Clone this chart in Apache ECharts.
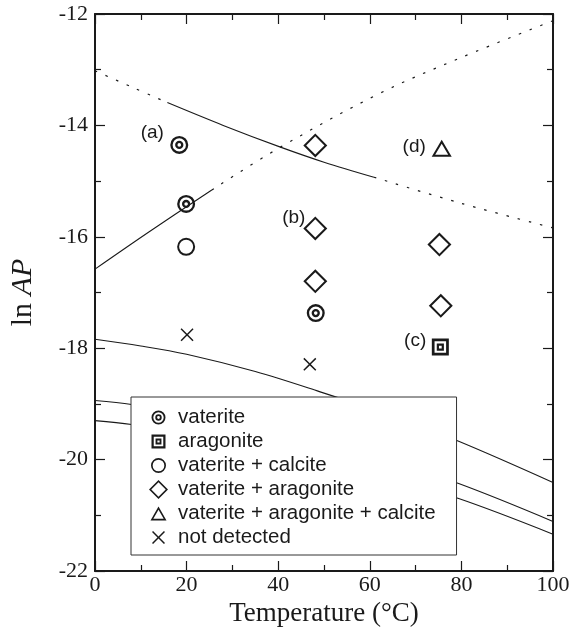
<!DOCTYPE html>
<html>
<head>
<meta charset="utf-8">
<script src="https://cdn.jsdelivr.net/npm/echarts@6/dist/echarts.min.js"></script>
<style>
  html, body { margin: 0; padding: 0; background: #fff; }
  #chart { width: 573px; height: 639px; }
</style>
</head>
<body>
<div id="chart"></div>
<script>
// measured points, [temperature °C, ln AP]
const vaterite = [[18.4, -14.35], [19.9, -15.41], [48.2, -17.37]];
const aragonite = [[75.4, -17.98]];
const vateriteCalcite = [[19.9, -16.18]];
const vateriteAragonite = [[48.1, -14.36], [48.1, -15.85], [48.1, -16.8], [75.2, -16.14], [75.5, -17.24]];
const vateriteAragoniteCalcite = [[75.7, -14.41]];
const notDetected = [[20.1, -17.76], [46.9, -18.29]];

// curves
const upperDotL = [[0, -13.02], [8, -13.31], [15.8, -13.59]];
const upperSolid = [[15.8, -13.59], [28, -14.0], [40.5, -14.39], [50, -14.66], [60.9, -14.93]];
const upperDotR = [[60.9, -14.93], [80, -15.4], [100, -15.84]];
const risingSolid = [[0, -16.58], [12, -15.9], [25.5, -15.16]];
const risingDot = [[25.5, -15.16], [40.5, -14.39], [62.3, -13.42], [80, -12.78], [100, -12.12]];
const lowerA = [[0, -17.84], [10, -17.96], [20, -18.11], [35, -18.42], [49, -18.78], [65, -19.22], [79.4, -19.67], [100, -20.41]];
const lowerB = [[0, -18.94], [8, -19.01], [20, -19.15], [40, -19.47], [60, -19.9], [79.4, -20.43], [100, -21.11]];
const lowerC = [[0, -19.3], [8, -19.37], [20, -19.51], [40, -19.81], [60, -20.22], [79.4, -20.7], [100, -21.34]];

const annotations = [[12.5, -14.13, '(a)'], [43.4, -15.65, '(b)'], [69.9, -17.87, '(c)'], [69.7, -14.39, '(d)']];

const ink = '#1a1a1a';

// outline marker shapes as filled rings (outer cw, inner ccw)
function ring(cx, cy, ro, ri) {
  return 'M' + (cx - ro) + ',' + cy + ' A' + ro + ',' + ro + ' 0 1,1 ' + (cx + ro) + ',' + cy +
    ' A' + ro + ',' + ro + ' 0 1,1 ' + (cx - ro) + ',' + cy + ' Z' +
    ' M' + (cx - ri) + ',' + cy + ' A' + ri + ',' + ri + ' 0 1,0 ' + (cx + ri) + ',' + cy +
    ' A' + ri + ',' + ri + ' 0 1,0 ' + (cx - ri) + ',' + cy + ' Z';
}
const pDoubleCircle = ring(50, 50, 50, 37) + ' ' + ring(50, 50, 23, 10);
const pCircle = ring(50, 50, 50, 39);
const pDoubleSquare = 'M0,0 L100,0 L100,100 L0,100 Z M16,16 L16,84 L84,84 L84,16 Z' +
  ' M29,29 L71,29 L71,71 L29,71 Z M42,42 L42,58 L58,58 L58,42 Z';
const pDiamond = 'M50,0 L100,50 L50,100 L0,50 Z M50,12 L12,50 L50,88 L88,50 Z';
const pTriangle = 'M50,0 L100,86 L0,86 Z M50,20 L17.4,76 L82.6,76 Z';
const pCross = 'M0,8 L8,0 L50,42 L92,0 L100,8 L58,50 L100,92 L92,100 L50,58 L8,100 L0,92 L42,50 Z';

// legend icons share one box; empty corner points shrink the smaller glyphs inside it
const LEGEND_BOX = 19;
function legendIcon(p, size, cy) {
  const h = 50 * LEGEND_BOX / size;
  const c = cy === undefined ? 50 : cy;
  return 'path://' + p + ' M' + (50 - h) + ',' + (c - h) + ' L' + (50 - h) + ',' + (c - h) +
    ' M' + (50 + h) + ',' + (c + h) + ' L' + (50 + h) + ',' + (c + h);
}

function markers(name, data, p, size) {
  return {
    name: name, type: 'scatter', data: data, symbol: 'path://' + p, symbolSize: size,
    symbolKeepAspect: true, itemStyle: { color: ink, opacity: 1 }, z: 5, silent: true
  };
}
function curve(data, dotted) {
  return {
    type: 'line', data: data, showSymbol: false, smooth: 0.35, silent: true, z: 3,
    lineStyle: { color: ink, width: dotted ? 1.2 : 1.1, type: dotted ? [2.5, 9] : 'solid' }
  };
}

const serif = 'Liberation Serif';
const sans = 'Liberation Sans';

function axisCommon(extra) {
  return Object.assign({
    type: 'value',
    axisLine: { show: true, onZero: false, lineStyle: { color: ink, width: 2 } },
    axisTick: { show: true, inside: true, length: 10, lineStyle: { color: ink, width: 1.2 } },
    minorTick: { show: true, splitNumber: 2, length: 6, lineStyle: { color: ink, width: 1.2 } },
    splitLine: { show: false },
    minorSplitLine: { show: false }
  }, extra);
}

const chart = echarts.init(document.getElementById('chart'));
chart.setOption({
  animation: false,
  backgroundColor: '#fff',
  grid: { left: 94, right: 20, top: 14, bottom: 68 },
  xAxis: [
    axisCommon({
      min: 0, max: 100, interval: 20, position: 'bottom',
      name: 'Temperature (°C)', nameLocation: 'middle', nameGap: 27,
      nameTextStyle: { fontFamily: serif, fontSize: 27, color: ink },
      axisLabel: { fontFamily: serif, fontSize: 22, color: ink, margin: 3 }
    }),
    axisCommon({ min: 0, max: 100, interval: 20, position: 'top', axisLabel: { show: false } })
  ],
  yAxis: [
    axisCommon({
      min: -22, max: -12, interval: 2, position: 'left',
      name: 'ln {i|AP}', nameLocation: 'middle', nameRotate: 90, nameGap: 57,
      nameTextStyle: {
        fontFamily: serif, fontSize: 30, color: ink,
        rich: { i: { fontFamily: serif, fontSize: 30, fontStyle: 'italic', color: ink } }
      },
      axisLabel: { fontFamily: serif, fontSize: 22, color: ink, margin: 7 }
    }),
    axisCommon({ min: -22, max: -12, interval: 2, position: 'right', axisLabel: { show: false } })
  ],
  legend: {
    orient: 'vertical', left: 131, top: 397,
    padding: [10, 21, 7, 18],
    itemGap: 3, itemWidth: LEGEND_BOX, itemHeight: LEGEND_BOX,
    backgroundColor: '#fff', borderColor: '#333', borderWidth: 1, borderRadius: 0,
    selectedMode: false,
    textStyle: { fontFamily: sans, fontSize: 20.5, color: ink, padding: [0, 0, 0, 5] },
    data: [
      { name: 'vaterite', icon: legendIcon(pDoubleCircle, 14) },
      { name: 'aragonite', icon: legendIcon(pDoubleSquare, 14) },
      { name: 'vaterite + calcite', icon: legendIcon(pCircle, 15) },
      { name: 'vaterite + aragonite', icon: legendIcon(pDiamond, 19) },
      { name: 'vaterite + aragonite + calcite', icon: legendIcon(pTriangle, 16, 43) },
      { name: 'not detected', icon: legendIcon(pCross, 13) }
    ]
  },
  series: [
    curve(upperDotL, true), curve(upperSolid, false), curve(upperDotR, true),
    curve(risingSolid, false), curve(risingDot, true),
    curve(lowerA, false), curve(lowerB, false), curve(lowerC, false),
    markers('vaterite', vaterite, pDoubleCircle, 18),
    markers('aragonite', aragonite, pDoubleSquare, 17),
    markers('vaterite + calcite', vateriteCalcite, pCircle, 18),
    markers('vaterite + aragonite', vateriteAragonite, pDiamond, 24),
    markers('vaterite + aragonite + calcite', vateriteAragoniteCalcite, pTriangle, 20),
    markers('not detected', notDetected, pCross, 13),
    {
      type: 'scatter', data: annotations, symbolSize: 1, silent: true, z: 6,
      itemStyle: { color: 'rgba(0,0,0,0)', opacity: 1 },
      label: {
        show: true, position: 'inside', formatter: p => p.value[2],
        fontFamily: sans, fontSize: 19, color: ink
      }
    }
  ]
});
</script>
</body>
</html>
